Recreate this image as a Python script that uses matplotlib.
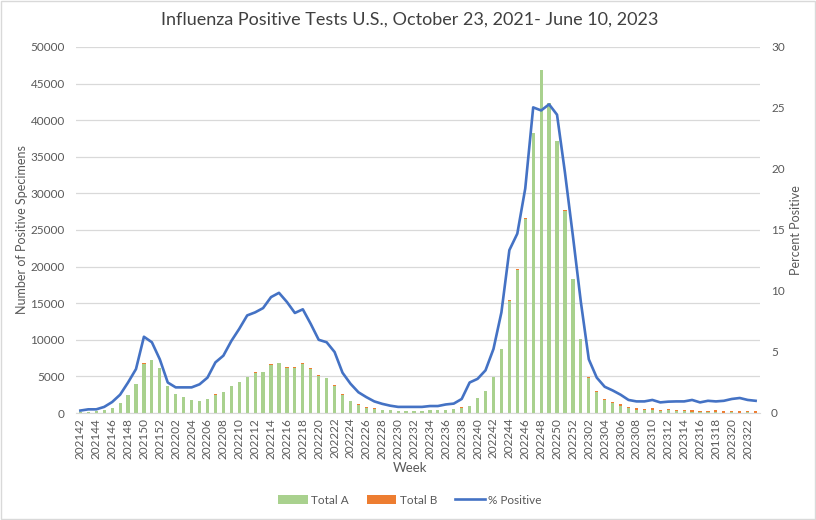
import matplotlib
matplotlib.use("Agg")
import matplotlib.pyplot as plt
import numpy as np

plt.rcParams['font.family'] = ['Lato', 'DejaVu Sans']

# week labels (every week from 2021-42 to 2023-23)
weeks = ([f"2021{w:02d}" for w in range(42, 53)] +
         [f"2022{w:02d}" for w in range(1, 53)] +
         [f"2023{w:02d}" for w in range(1, 24)])
# reference chart contains this label typo
weeks[weeks.index("202318")] = "201318"

total_a = [120, 170, 270, 420, 690, 1310, 2400, 3900, 6750, 7180,
           6150, 3650, 2550, 2150, 1750, 1600, 1850, 2500, 2850, 3680,
           4220, 4890, 5530, 5580, 6620, 6770, 6180, 6180, 6700, 6040,
           5060, 4720, 3730, 2490, 1590, 1130, 720, 590, 350, 350,
           230, 230, 230, 230, 350, 350, 350, 500, 720, 900,
           2000, 2950, 4850, 8750, 15350, 19600, 26550, 38250, 46850, 42350,
           37150, 27650, 18250, 10050, 4820, 2920, 1800, 1300, 950, 620,
           450, 380, 450, 270, 350, 270, 250, 170, 80, 70,
           180, 60, 70, 50, 80, 60]
total_b = [30, 30, 30, 30, 40, 50, 50, 50, 50, 50,
           50, 50, 50, 50, 50, 50, 50, 50, 50, 50,
           50, 50, 60, 60, 60, 60, 70, 70, 80, 70,
           70, 70, 60, 60, 50, 50, 50, 50, 50, 50,
           40, 40, 40, 40, 50, 50, 50, 50, 50, 50,
           50, 50, 50, 50, 50, 50, 50, 50, 50, 50,
           50, 50, 50, 50, 50, 80, 100, 150, 230, 200,
           190, 170, 190, 180, 200, 180, 200, 230, 190, 200,
           220, 210, 200, 180, 190, 170]
pct_positive = [0.2, 0.3, 0.3, 0.5, 0.9, 1.5, 2.5, 3.6, 6.25, 5.8,
                4.4, 2.5, 2.1, 2.1, 2.1, 2.35, 2.9, 4.15, 4.7, 5.9,
                6.9, 8.0, 8.25, 8.6, 9.5, 9.85, 9.1, 8.2, 8.5, 7.3,
                6.0, 5.8, 5.0, 3.3, 2.4, 1.7, 1.3, 0.95, 0.75, 0.6,
                0.5, 0.5, 0.5, 0.5, 0.57, 0.57, 0.7, 0.77, 1.15, 2.5,
                2.8, 3.5, 5.25, 8.25, 13.35, 14.7, 18.4, 25.05, 24.8, 25.3,
                24.45, 19.7, 14.5, 9.1, 4.4, 2.9, 2.15, 1.85, 1.5, 1.07,
                0.95, 0.95, 1.07, 0.87, 0.93, 0.95, 0.95, 1.07, 0.87, 1.0,
                0.95, 1.0, 1.15, 1.23, 1.07, 1.0]

x = np.arange(len(weeks))
fig = plt.figure(figsize=(8.16, 5.2), dpi=100)
ax = fig.add_axes([76/816, 1-413/520, (760-76)/816, (413-47)/520])
ax2 = ax.twinx()

ax.bar(x, total_a, width=0.4, color='#A9D18E', label='Total A', zorder=2)
ax.bar(x, total_b, width=0.4, bottom=total_a, color='#ED7D31', label='Total B', zorder=2)
ax2.plot(x, pct_positive, color='#4472C4', lw=1.9, label='% Positive', zorder=3)

ax.set_xlim(-0.55, len(weeks) - 0.45)
ax.set_ylim(0, 50000)
ax.set_yticks(np.arange(0, 50001, 5000))
ax2.set_ylim(0, 30)
ax2.set_yticks(np.arange(0, 31, 5))
ax.set_xticks(x[::2])
ax.set_xticklabels(weeks[::2], rotation=90, fontsize=8.5, color='#595959')
ax.grid(axis='y', color='#d9d9d9', lw=0.9, zorder=0)
ax.set_axisbelow(True)
for a in (ax, ax2):
    for s in a.spines.values():
        s.set_visible(False)
    a.tick_params(length=0, labelsize=8.5, labelcolor='#595959')
ax.spines['bottom'].set_visible(True)
ax.spines['bottom'].set_color('#d9d9d9')
ax.tick_params(axis='y', pad=8)
ax2.tick_params(axis='y', pad=8)

ax.set_ylabel('Number of Positive Specimens', fontsize=9, color='#595959', labelpad=2)
ax2.set_ylabel('Percent Positive', fontsize=9, color='#595959', labelpad=4)
fig.text(410/816, 1-468/520, 'Week', ha='center', va='center', fontsize=9.5, color='#595959')
fig.text(410/816, 1-20/520, 'Influenza Positive Tests U.S., October 23, 2021- June 10, 2023',
         ha='center', va='center', fontsize=13, color='#404040')

h1, l1 = ax.get_legend_handles_labels()
h2, l2 = ax2.get_legend_handles_labels()
fig.legend(h1 + h2, l1 + l2, loc='center', bbox_to_anchor=(410/816, 1-500/520), ncol=3,
           frameon=False, fontsize=8.5, labelcolor='#595959', handlelength=2.5,
           handletextpad=0.3, columnspacing=1.5)

border = plt.Rectangle((0.001, 0.001), 0.998, 0.998, transform=fig.transFigure,
                       fill=False, ec='#d9d9d9', lw=1)
fig.patches.append(border)
fig.savefig('out.png', dpi=100)
